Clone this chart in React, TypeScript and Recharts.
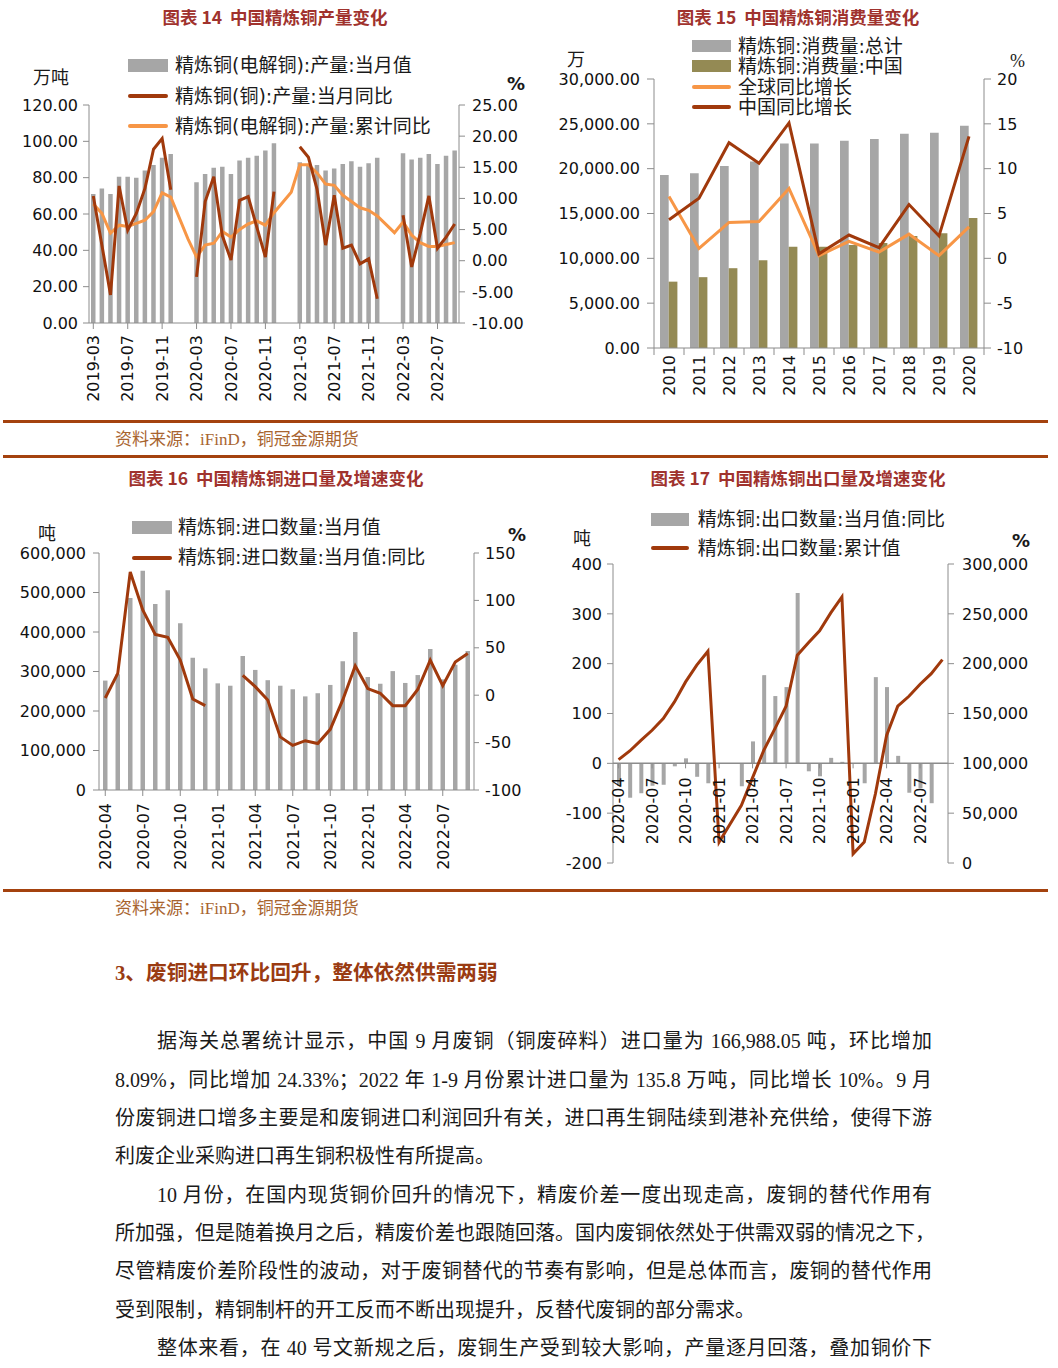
import React from 'react';
import { ComposedChart, Bar, Line, XAxis, YAxis, Legend, ReferenceLine } from 'recharts';

// ---------------- Chart 14: 中国精炼铜产量变化 ----------------
const months14 = [
  '2019-03', '2019-04', '2019-05', '2019-06', '2019-07', '2019-08', '2019-09', '2019-10', '2019-11', '2019-12',
  '2020-01', '2020-02', '2020-03', '2020-04', '2020-05', '2020-06', '2020-07', '2020-08', '2020-09', '2020-10', '2020-11', '2020-12',
  '2021-01', '2021-02', '2021-03', '2021-04', '2021-05', '2021-06', '2021-07', '2021-08', '2021-09', '2021-10', '2021-11', '2021-12',
  '2022-01', '2022-02', '2022-03', '2022-04', '2022-05', '2022-06', '2022-07', '2022-08', '2022-09',
];
const output14 = [
  71, 74, 71, 80.5, 80.5, 80, 84, 87, 91, 93,
  null, null, 77.5, 82, 85.5, 86, 82, 89.5, 91, 92, 95, 99,
  null, null, 88.5, 87.5, 87, 84, 85, 87.5, 89, 86, 88, 91,
  null, null, 93.5, 90, 91, 93, 87.5, 92, 95,
];
const yoy14 = [
  10.4, 2.5, -5.5, 12, 4.9, 7.6, 11.6, 17.9, 19.6, 11.4,
  null, null, -2.6, 9.5, 13.5, 4, 0.1, 9.7, 10.3, 5.4, 0.6, 11.1,
  null, null, 18.3, 16.6, 11.5, 2.5, 10.5, 2.0, 2.5, -0.5, 0.3, -6.1,
  null, null, 7.3, -1.0, 4.4, 10.4, 2.0, 3.8, 5.9,
];
const cum14 = [
  9.1, 7.6, 4.4, 5.7, 5.5, 6.0, 6.5, 7.9, 10.9, 10.2,
  null, 3.5, 0.6, 2.5, 2.8, 4.7, 3.8, 5.0, 5.9, 6.4, 5.7, 7.7,
  null, 11.0, 15.4, 15.4, 14.1, 12.3, 12.1, 10.5, 9.5, 8.5, 8.1, 7.2,
  null, 4.5, 6.2, 4.1, 2.9, 2.3, 2.3, 2.6, 2.9,
];
const leftTicks14 = [0, 20, 40, 60, 80, 100, 120];
const rightTicks14 = [-10, -5, 0, 5, 10, 15, 20, 25];
const legend14 = ['精炼铜(电解铜):产量:当月值', '精炼铜(铜):产量:当月同比', '精炼铜(电解铜):产量:累计同比'];

// ---------------- Chart 15: 中国精炼铜消费量变化 ----------------
const years15 = ['2010', '2011', '2012', '2013', '2014', '2015', '2016', '2017', '2018', '2019', '2020'];
const total15 = [19300, 19500, 20300, 20800, 22800, 22800, 23100, 23300, 23900, 24000, 24800];
const china15 = [7400, 7900, 8900, 9800, 11300, 11300, 11500, 11700, 12500, 12800, 14500];
const globalYoy15 = [6.9, 1.1, 4.0, 4.1, 7.8, 0.3, 1.9, 0.7, 2.7, 0.3, 3.5];
const chinaYoy15 = [4.3, 6.7, 12.9, 10.6, 15.1, 0.5, 2.6, 1.2, 6.0, 2.5, 13.6];
const leftTicks15 = [0, 5000, 10000, 15000, 20000, 25000, 30000];
const rightTicks15 = [-10, -5, 0, 5, 10, 15, 20];
const legend15 = ['精炼铜:消费量:总计', '精炼铜:消费量:中国', '全球同比增长', '中国同比增长'];

// ---------------- Charts 16 / 17: months ----------------
const monthsTrade = [
  '2020-04', '2020-05', '2020-06', '2020-07', '2020-08', '2020-09', '2020-10', '2020-11', '2020-12',
  '2021-01', '2021-02', '2021-03', '2021-04', '2021-05', '2021-06', '2021-07', '2021-08', '2021-09', '2021-10', '2021-11', '2021-12',
  '2022-01', '2022-02', '2022-03', '2022-04', '2022-05', '2022-06', '2022-07', '2022-08', '2022-09',
];
// Chart 16: 进口
const imports16 = [
  277000, 293000, 486000, 555000, 471000, 506000, 422000, 335000, 308000,
  270000, 264000, 339000, 304000, 278000, 264000, 255000, 237000, 245000, 266000, 326000, 400000,
  286000, 269000, 301000, 271000, 291000, 357000, 280000, 317000, 352000,
];
const importYoy16 = [
  -3, 23, 130, 90, 64, 61, 37, -4, -11,
  null, null, 21, 9, -5, -44, -53, -48, -51, -36, -5, 31,
  7, 2, -11, -11, 6, 37, 10, 35, 44,
];
const leftTicks16 = [0, 100000, 200000, 300000, 400000, 500000, 600000];
const rightTicks16 = [-100, -50, 0, 50, 100, 150];
const legend16 = ['精炼铜:进口数量:当月值', '精炼铜:进口数量:当月值:同比'];

// Chart 17: 出口
const exportYoy17 = [
  -45, -69, -60, -45, -43, -6, 10, -27, -40,
  null, null, -46, 44, 177, 135, 153, 342, -16, -26, 11, 3,
  null, -40, 173, 153, 15, -59, -50, -80, null,
];
const exportCum17 = [
  103700, 112400, 123100, 133200, 144900, 161600, 181700, 198500, 212500,
  21000, 39400, 57800, 85600, 113000, 134800, 157300, 208500, 220900, 233000, 251000, 267000,
  9200, 21000, 69500, 128000, 157300, 167300, 179400, 190000, 204000,
];
const leftTicks17 = [-200, -100, 0, 100, 200, 300, 400];
const rightTicks17 = [0, 50000, 100000, 150000, 200000, 250000, 300000];
const legend17 = ['精炼铜:出口数量:当月值:同比', '精炼铜:出口数量:累计值'];

// ---------------- rows ----------------
const rows14 = months14.map((m, i) => ({ m, output: output14[i], yoy: yoy14[i], cum: cum14[i] }));
const rows15 = years15.map((y, i) => ({ y, total: total15[i], china: china15[i], gy: globalYoy15[i], cy: chinaYoy15[i] }));
const rows16 = monthsTrade.map((m, i) => ({ m, imp: imports16[i], yoy: importYoy16[i] }));
const rows17 = monthsTrade.map((m, i) => ({ m, yoy: exportYoy17[i], cum: exportCum17[i] }));

// ---------------- styles ----------------
const F = '"DejaVu Sans", "Noto Sans CJK SC", sans-serif';
const AX = '#8c8c8c';
const GRAY = '#A6A6A6';
const OLIVE = '#948A54';
const DARK = '#A0390C';
const ORANGE = '#F79646';
const TITLE = '#A0322D';
const RULE = '#A4420E';
const tickStyle = { fontSize: 16, fill: '#111', fontFamily: F };

const PLOT15_W = 330;
const PH17 = 299;

const RotTick = ({ x, y, payload }: any) => (
  <text x={x} y={y} transform={`rotate(-90 ${x} ${y})`} textAnchor="end" dy="0.36em" fontSize={16} fontFamily={F} fill="#111">
    {payload.value}
  </text>
);

const Tick15 = ({ x, y, payload, index }: any) => {
  const half = PLOT15_W / years15.length / 2;
  return (
    <g>
      <line x1={x - half} x2={x - half} y1={y - 7} y2={y} stroke={AX} />
      {index === years15.length - 1 && <line x1={x + half} x2={x + half} y1={y - 7} y2={y} stroke={AX} />}
      <text x={x} y={y} transform={`rotate(-90 ${x} ${y})`} textAnchor="end" dy="0.36em" fontSize={16} fontFamily={F} fill="#111">
        {payload.value}
      </text>
    </g>
  );
};

const Tick17 = ({ x, y, payload }: any) => {
  const lo = leftTicks17[0];
  const hi = leftTicks17[leftTicks17.length - 1];
  const zy = y - (PH17 * (0 - lo)) / (hi - lo);
  const ty = zy + 14;
  return (
    <g>
      <line x1={x} x2={x} y1={zy} y2={zy + 5} stroke={AX} />
      <text x={x} y={ty} transform={`rotate(-90 ${x} ${ty})`} textAnchor="end" dy="0.36em" fontSize={16} fontFamily={F} fill="#111">
        {payload.value}
      </text>
    </g>
  );
};

const legendContent = (order: string[], sw: number, gap: number, rowH: number, rectH: number) => (props: any) => {
  const items = [...(props.payload || [])].sort((a: any, b: any) => order.indexOf(a.value) - order.indexOf(b.value));
  return (
    <div style={{ fontFamily: F, fontSize: 19, color: '#1a1a1a' }}>
      {items.map((e: any, i: number) => (
        <div key={i} style={{ display: 'flex', alignItems: 'center', height: rowH, whiteSpace: 'nowrap' }}>
          <span
            style={{
              display: 'inline-block',
              width: sw,
              height: e.type === 'rect' ? rectH : 4,
              background: e.color,
              borderRadius: e.type === 'rect' ? 0 : 2,
              flex: 'none',
            }}
          />
          <span style={{ marginLeft: gap, lineHeight: `${rowH}px` }}>{e.value}</span>
        </div>
      ))}
    </div>
  );
};

const fmt2 = (v: number) => v.toFixed(2);
const fmtComma2 = (v: number) => v.toLocaleString('en-US', { minimumFractionDigits: 2, maximumFractionDigits: 2 });
const fmtComma = (v: number) => v.toLocaleString('en-US');

const abs = (left: number, top: number): React.CSSProperties => ({ position: 'absolute', left, top });

const Title = ({ cx, cy, text }: { cx: number; cy: number; text: string }) => (
  <div
    style={{
      position: 'absolute',
      left: cx - 200,
      top: cy - 12,
      width: 400,
      textAlign: 'center',
      fontFamily: '"Noto Sans CJK SC", sans-serif',
      fontWeight: 700,
      fontSize: 17.5,
      lineHeight: '24px',
      color: TITLE,
      whiteSpace: 'pre',
    }}
  >
    {text}
  </div>
);

const Unit = ({ left, top, text, bold, serif }: { left: number; top: number; text: string; bold?: boolean; serif?: boolean }) => (
  <div
    style={{
      position: 'absolute',
      left,
      top,
      fontFamily: serif ? '"Liberation Serif", serif' : F,
      fontWeight: bold ? 700 : 400,
      fontSize: 18,
      lineHeight: '20px',
      color: '#1a1a1a',
      whiteSpace: 'nowrap',
    }}
  >
    {text}
  </div>
);

const Rule = ({ y }: { y: number }) => (
  <div style={{ position: 'absolute', left: 3, top: y - 1.5, width: 1045, height: 3, background: RULE }} />
);

const Source = ({ y }: { y: number }) => (
  <div
    style={{
      position: 'absolute',
      left: 115,
      top: y - 11,
      fontFamily: '"Liberation Serif", "Noto Sans CJK SC", serif',
      fontSize: 17,
      lineHeight: '22px',
      color: '#A8642F',
      whiteSpace: 'nowrap',
    }}
  >
    资料来源：iFinD，铜冠金源期货
  </div>
);

const bodyLines: { text: string; indent: boolean; justify: boolean; y: number }[] = [
  { text: '据海关总署统计显示，中国 9 月废铜（铜废碎料）进口量为 166,988.05 吨，环比增加', indent: true, justify: true, y: 1041 },
  { text: '8.09%，同比增加 24.33%；2022 年 1-9 月份累计进口量为 135.8 万吨，同比增长 10%。9 月', indent: false, justify: true, y: 1080 },
  { text: '份废铜进口增多主要是和废铜进口利润回升有关，进口再生铜陆续到港补充供给，使得下游', indent: false, justify: true, y: 1118 },
  { text: '利废企业采购进口再生铜积极性有所提高。', indent: false, justify: false, y: 1156 },
  { text: '10 月份，在国内现货铜价回升的情况下，精废价差一度出现走高，废铜的替代作用有', indent: true, justify: true, y: 1195 },
  { text: '所加强，但是随着换月之后，精废价差也跟随回落。国内废铜依然处于供需双弱的情况之下，', indent: false, justify: true, y: 1233 },
  { text: '尽管精废价差阶段性的波动，对于废铜替代的节奏有影响，但是总体而言，废铜的替代作用', indent: false, justify: true, y: 1271 },
  { text: '受到限制，精铜制杆的开工反而不断出现提升，反替代废铜的部分需求。', indent: false, justify: false, y: 1310 },
  { text: '整体来看，在 40 号文新规之后，废铜生产受到较大影响，产量逐月回落，叠加铜价下', indent: true, justify: true, y: 1348 },
];

export default function App() {
  return (
    <div style={{ position: 'absolute', left: 0, top: 0, width: 1058, height: 1368, background: '#fff', overflow: 'hidden' }}>
      {/* ---------- Chart 14 ---------- */}
      <Title cx={275} cy={17} text="图表 14  中国精炼铜产量变化" />
      <Unit left={33} top={68} text="万吨" />
      <Unit left={507} top={74} text="%" bold />
      <div style={abs(0, 0)}>
        <ComposedChart width={530} height={410} data={rows14} margin={{ top: 105, right: 6, bottom: 7, left: 0 }}>
          <XAxis dataKey="m" interval={3} height={80} tick={<RotTick />} tickSize={6} tickMargin={6} axisLine={{ stroke: AX }} tickLine={{ stroke: AX }} />
          <YAxis yAxisId="l" domain={[0, 120]} ticks={leftTicks14} interval={0} tickFormatter={fmt2} width={89} tickSize={6} tickMargin={5} tick={tickStyle} axisLine={{ stroke: AX }} tickLine={{ stroke: AX }} />
          <YAxis yAxisId="r" orientation="right" domain={[-10, 25]} ticks={rightTicks14} interval={0} tickFormatter={fmt2} width={65} tickSize={6} tickMargin={7} tick={tickStyle} axisLine={{ stroke: AX }} tickLine={{ stroke: AX }} />
          <Legend layout="vertical" align="center" verticalAlign="middle" content={legendContent(legend14, 40, 7, 30.5, 13)} wrapperStyle={{ position: 'absolute', left: 128, top: 50, width: 380 }} />
          <Bar yAxisId="l" dataKey="output" name={legend14[0]} fill={GRAY} barSize={4.5} isAnimationActive={false} />
          <Line yAxisId="r" dataKey="cum" name={legend14[2]} stroke={ORANGE} strokeWidth={3} dot={false} activeDot={false} connectNulls isAnimationActive={false} />
          <Line yAxisId="r" dataKey="yoy" name={legend14[1]} stroke={DARK} strokeWidth={3} dot={false} activeDot={false} connectNulls={false} isAnimationActive={false} />
        </ComposedChart>
      </div>

      {/* ---------- Chart 15 ---------- */}
      <Title cx={798} cy={17} text="图表 15  中国精炼铜消费量变化" />
      <Unit left={567} top={50} text="万" />
      <Unit left={1010} top={51} text="%" serif />
      <div style={abs(530, 0)}>
        <ComposedChart width={528} height={410} data={rows15} margin={{ top: 79, right: 24, bottom: 7, left: 0 }} barGap={0}>
          <XAxis dataKey="y" interval={0} height={55} tick={<Tick15 />} tickLine={false} tickSize={7} tickMargin={0} axisLine={{ stroke: AX }} />
          <YAxis yAxisId="l" domain={[0, 30000]} ticks={leftTicks15} interval={0} tickFormatter={fmtComma2} width={124} tickSize={7} tickMargin={7} tick={tickStyle} axisLine={{ stroke: AX }} tickLine={{ stroke: AX }} />
          <YAxis yAxisId="r" orientation="right" domain={[-10, 20]} ticks={rightTicks15} interval={0} width={50} tickSize={7} tickMargin={6} tick={tickStyle} axisLine={{ stroke: AX }} tickLine={{ stroke: AX }} />
          <Legend layout="vertical" align="center" verticalAlign="middle" content={legendContent(legend15, 39, 7, 20.5, 12)} wrapperStyle={{ position: 'absolute', left: 162, top: 35.5, width: 300 }} />
          <Bar yAxisId="l" dataKey="total" name={legend15[0]} fill={GRAY} barSize={8.7} isAnimationActive={false} />
          <Bar yAxisId="l" dataKey="china" name={legend15[1]} fill={OLIVE} barSize={8.7} isAnimationActive={false} />
          <Line yAxisId="r" dataKey="gy" name={legend15[2]} stroke={ORANGE} strokeWidth={3} dot={false} activeDot={false} isAnimationActive={false} />
          <Line yAxisId="r" dataKey="cy" name={legend15[3]} stroke={DARK} strokeWidth={3} dot={false} activeDot={false} isAnimationActive={false} />
        </ComposedChart>
      </div>

      <Rule y={421} />
      <Source y={440} />
      <Rule y={456} />

      {/* ---------- Chart 16 ---------- */}
      <Title cx={276} cy={478} text="图表 16  中国精炼铜进口量及增速变化" />
      <Unit left={38} top={524} text="吨" />
      <Unit left={508} top={525} text="%" bold />
      <div style={abs(0, 460)}>
        <ComposedChart width={530} height={420} data={rows16} margin={{ top: 93, right: 6, bottom: 10, left: 0 }}>
          <XAxis dataKey="m" interval={2} height={80} tick={<RotTick />} tickSize={6} tickMargin={7} axisLine={{ stroke: AX }} tickLine={{ stroke: AX }} />
          <YAxis yAxisId="l" domain={[0, 600000]} ticks={leftTicks16} interval={0} tickFormatter={fmtComma} width={99} tickSize={6} tickMargin={7} tick={tickStyle} axisLine={{ stroke: AX }} tickLine={{ stroke: AX }} />
          <YAxis yAxisId="r" orientation="right" domain={[-100, 150]} ticks={rightTicks16} interval={0} width={50} tickSize={5} tickMargin={6} tick={tickStyle} axisLine={{ stroke: AX }} tickLine={{ stroke: AX }} />
          <Legend layout="vertical" align="center" verticalAlign="middle" content={legendContent(legend16, 40, 6, 30.7, 13)} wrapperStyle={{ position: 'absolute', left: 132, top: 51.7, width: 330 }} />
          <Bar yAxisId="l" dataKey="imp" name={legend16[0]} fill={GRAY} barSize={4.5} isAnimationActive={false} />
          <Line yAxisId="r" dataKey="yoy" name={legend16[1]} stroke={DARK} strokeWidth={3} dot={false} activeDot={false} connectNulls={false} isAnimationActive={false} />
        </ComposedChart>
      </div>

      {/* ---------- Chart 17 ---------- */}
      <Title cx={798} cy={478} text="图表 17  中国精炼铜出口量及增速变化" />
      <Unit left={573} top={529} text="吨" />
      <Unit left={1012} top={531} text="%" bold />
      <div style={abs(530, 460)}>
        <ComposedChart width={528} height={420} data={rows17} margin={{ top: 104, right: 50, bottom: 7, left: 0 }}>
          <XAxis dataKey="m" interval={2} height={10} tick={<Tick17 />} tickLine={false} axisLine={false} tickSize={0} tickMargin={0} />
          <YAxis yAxisId="l" domain={[-200, 400]} ticks={leftTicks17} interval={0} width={83} tickSize={6} tickMargin={5} tick={tickStyle} axisLine={{ stroke: AX }} tickLine={{ stroke: AX }} />
          <YAxis yAxisId="r" orientation="right" domain={[0, 300000]} ticks={rightTicks17} interval={0} tickFormatter={fmtComma} width={60} tickSize={6} tickMargin={8} tick={tickStyle} axisLine={{ stroke: AX }} tickLine={{ stroke: AX }} />
          <Legend layout="vertical" align="center" verticalAlign="middle" content={legendContent(legend17, 38, 9, 29, 13)} wrapperStyle={{ position: 'absolute', left: 120.7, top: 44.5, width: 330 }} />
          <ReferenceLine yAxisId="l" y={0} stroke={AX} strokeWidth={1.5} />
          <Bar yAxisId="l" dataKey="yoy" name={legend17[0]} fill={GRAY} barSize={4} isAnimationActive={false} />
          <Line yAxisId="r" dataKey="cum" name={legend17[1]} stroke={DARK} strokeWidth={3} dot={false} activeDot={false} isAnimationActive={false} />
        </ComposedChart>
      </div>

      <Rule y={890} />
      <Source y={909} />

      {/* ---------- Text ---------- */}
      <div
        style={{
          position: 'absolute',
          left: 115,
          top: 973 - 14,
          fontFamily: '"Liberation Serif", "Noto Sans CJK SC", serif',
          fontWeight: 700,
          fontSize: 20.7,
          lineHeight: '28px',
          color: '#9A3B12',
          whiteSpace: 'nowrap',
        }}
      >
        3、废铜进口环比回升，整体依然供需两弱
      </div>
      {bodyLines.map((l, i) => (
        <div
          key={i}
          style={{
            position: 'absolute',
            left: 115,
            top: l.y - 14,
            width: 817,
            boxSizing: 'border-box',
            paddingLeft: l.indent ? 42 : 0,
            fontFamily: '"Liberation Serif", "Noto Sans CJK SC", serif',
            fontSize: 20,
            lineHeight: '28px',
            color: '#1a1a1a',
            textAlign: l.justify ? 'justify' : 'left',
            textAlignLast: l.justify ? 'justify' : 'left',
            whiteSpace: 'nowrap',
          }}
        >
          {l.text}
        </div>
      ))}
    </div>
  );
}
